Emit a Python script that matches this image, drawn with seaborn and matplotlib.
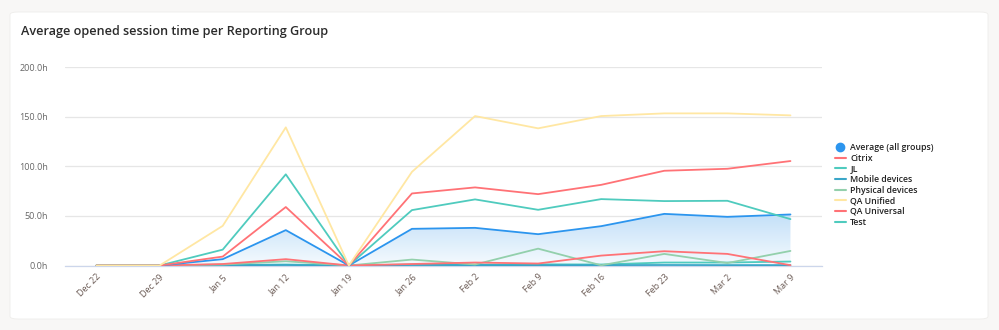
import numpy as np
import pandas as pd
import matplotlib
matplotlib.use("Agg")
import matplotlib.pyplot as plt
import seaborn as sns
from matplotlib.patches import FancyBboxPatch
from matplotlib.lines import Line2D

sns.set_theme(style="white")
plt.rcParams['font.family'] = ['Open Sans', 'DejaVu Sans']

weeks = ["Dec 22", "Dec 29", "Jan 5", "Jan 12", "Jan 19", "Jan 26",
         "Feb 2", "Feb 9", "Feb 16", "Feb 23", "Mar 2", "Mar 9"]
average = [0, 0, 6.4, 35.7, 0, 37.0, 38.0, 31.6, 39.7, 52.1, 49.1, 51.5]
citrix = [0, 0, 9.0, 59.0, 0, 72.7, 78.8, 72.0, 81.4, 95.6, 97.6, 105.4]
jl = [0, 0, 16.0, 92.0, 0, 55.9, 66.7, 56.2, 67.0, 65.0, 65.3, 46.8]
mobile = [0, 0, 0.3, 0.5, 0, 0.5, 0.4, 0.3, 0.4, 0.5, 0.4, 0.4]
physical = [0, 0, 1.0, 4.3, 0, 6.0, 1.0, 17.0, 0.2, 11.7, 2.5, 14.7]
qa_unified = [0, 0, 40.0, 139.4, 0, 94.5, 150.8, 138.4, 150.8, 153.5, 153.5, 151.5]
qa_universal = [0, 0, 1.5, 6.4, 0, 1.5, 3.0, 2.0, 10.0, 14.4, 11.7, 0.3]
test = [0, 0, 0.5, 1.0, 0, 1.0, 0.8, 1.2, 1.0, 3.0, 3.0, 4.0]

series_names = ["Average (all groups)", "Citrix", "JL", "Mobile devices",
                "Physical devices", "QA Unified", "QA Universal", "Test"]
series_vals = [average, citrix, jl, mobile, physical, qa_unified, qa_universal, test]
colors = {"Average (all groups)": "#2C95EE", "Citrix": "#FF7276", "JL": "#4FCBBE",
          "Mobile devices": "#3AA6C8", "Physical devices": "#93D0AC",
          "QA Unified": "#FFE7A3", "QA Universal": "#FF7276", "Test": "#4FCBBE"}
yticks = [0, 50, 100, 150, 200]
ytick_labels = ["0.0h", "50.0h", "100.0h", "150.0h", "200.0h"]

df = pd.DataFrame({"x": np.tile(np.arange(len(weeks)), len(series_names)),
                   "value": np.concatenate(series_vals),
                   "series": np.repeat(series_names, len(weeks))})

W, H = 999, 330
fig = plt.figure(figsize=(W / 100, H / 100), dpi=100)
fig.patch.set_facecolor("#F8F7F6")
card = FancyBboxPatch((10 / W, 11 / H), 978 / W, 307 / H,
                      boxstyle="round,pad=0,rounding_size=0.008",
                      transform=fig.transFigure, facecolor="white",
                      edgecolor="#EEEDEB", linewidth=0.6, zorder=-10)
fig.patches.append(card)

ax = fig.add_axes([65 / W, 1 - 265.5 / H, (822 - 65) / W, (265.5 - 67.3) / H])
ax.set_facecolor("none")
ax.set_xlim(-0.5, 11.5)
ax.set_ylim(0, 200)

# gradient fill under average
xs = np.arange(len(weeks))
poly = ax.fill_between(xs, 0, average, color="none", lw=0)
grad = np.linspace(0, 1, 256).reshape(-1, 1)
cmap = matplotlib.colors.LinearSegmentedColormap.from_list(
    "g", ["#F5FAFE", "#DAECFB", "#C0DEF8"])
img = ax.imshow(grad, cmap=cmap, aspect="auto", extent=[-0.5, 11.5, 0, 55],
                origin="lower", zorder=1)
clip = poly.get_paths()[0]
img.set_clip_path(clip, transform=ax.transData)

order = ["Test", "Mobile devices", "Physical devices", "QA Universal",
         "Average (all groups)", "JL", "Citrix", "QA Unified"]
for i, name in enumerate(order):
    sub = df[df.series == name]
    sns.lineplot(data=sub, x="x", y="value", ax=ax, color=colors[name],
                 lw=1.3, zorder=3 + i, legend=False)

ax.set_yticks(yticks)
ax.set_yticklabels(ytick_labels)
ax.set_xticks(xs)
ax.set_xticklabels(weeks, rotation=45, ha="right", rotation_mode="anchor")
ax.tick_params(axis="y", labelsize=6.5, colors="#666666", length=0, pad=12)
ax.tick_params(axis="x", labelsize=6.5, colors="#6B5B55", length=0, pad=5)
ax.grid(axis="y", color="#E6E6E6", lw=0.9)
ax.set_axisbelow(True)
for s in ["top", "right", "left"]:
    ax.spines[s].set_visible(False)
ax.spines["bottom"].set_color("#CCD6EB")
ax.spines["bottom"].set_linewidth(0.9)
ax.set_xlabel("")
ax.set_ylabel("")

fig.text(21 / W, 1 - 31 / H, "Average opened session time per Reporting Group",
         fontsize=9.1, color="#2B2B2B", va="center", ha="left", fontweight="semibold")

handles = [Line2D([], [], marker="o", color=colors["Average (all groups)"], lw=0,
                  markersize=6)]
for name in series_names[1:]:
    handles.append(Line2D([], [], color=colors[name], lw=1.5))
leg = fig.legend(handles, series_names, loc="upper left",
                 bbox_to_anchor=(835 / W, 1 - 143 / H), frameon=False,
                 fontsize=6.3, handlelength=1.2, handletextpad=0.55,
                 labelspacing=0.19, borderaxespad=0, borderpad=0)
for t in leg.get_texts():
    t.set_fontweight("semibold")
    t.set_color("#222222")

fig.savefig("out.png", dpi=100, facecolor=fig.get_facecolor())
